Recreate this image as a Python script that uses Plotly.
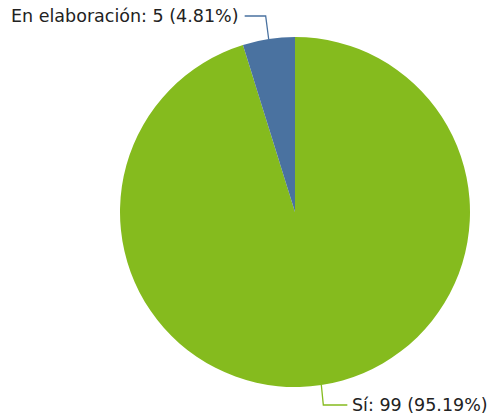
import math
import plotly.graph_objects as go

labels = ["Sí", "En elaboración"]
values = [99, 5]
colors = ["#85bb1e", "#4a72a0"]

W, H = 489, 415
cx, cy, R = 295, 212, 175

fig = go.Figure(go.Pie(
    labels=labels, values=values, sort=False, direction="clockwise", rotation=0,
    marker=dict(colors=colors, line=dict(width=0)),
    textinfo="none", hoverinfo="none", showlegend=False,
    domain=dict(x=[(cx - R) / W, (cx + R) / W], y=[1 - (cy + R) / H, 1 - (cy - R) / H]),
))

total = sum(values)
start = 0.0
shapes, annos = [], []
def px(x): return x / W
def py(y): return 1 - y / H
for lab, v, col in zip(labels, values, colors):
    frac = v / total
    mid = (start + frac / 2) * 2 * math.pi
    start += frac
    ex = cx + R * math.sin(mid)
    ey = cy - R * math.cos(mid)
    up = ey < cy
    side = 1 if ex > cx else -1
    ly = ey - 23 if up else ey + 20
    kx = ex + side * 2 if not up else ex - 3
    hx = kx + side * 24 if not up else kx - 21
    shapes.append(dict(type="path", xref="paper", yref="paper",
                       path=f"M {px(ex)} {py(ey)} L {px(kx)} {py(ly)} L {px(hx)} {py(ly)}",
                       line=dict(color=col, width=1.3)))
    pct = f"{frac*100:.2f}%"
    gap = 4 if side > 0 else 6
    annos.append(dict(xref="paper", yref="paper", x=px(hx + side * gap), y=py(ly),
                      xanchor="left" if side > 0 else "right", yanchor="middle",
                      text=f"{lab}: {v} ({pct})", showarrow=False, borderpad=0,
                      font=dict(family="DejaVu Sans", size=17.5, color="#222222")))

fig.update_layout(width=W, height=H, margin=dict(l=0, r=0, t=0, b=0),
                  paper_bgcolor="white", plot_bgcolor="white",
                  shapes=shapes, annotations=annos)
fig.write_html("out.html", config={"displayModeBar": False},
               post_script="document.body.style.margin='0';document.body.style.overflow='hidden';")
